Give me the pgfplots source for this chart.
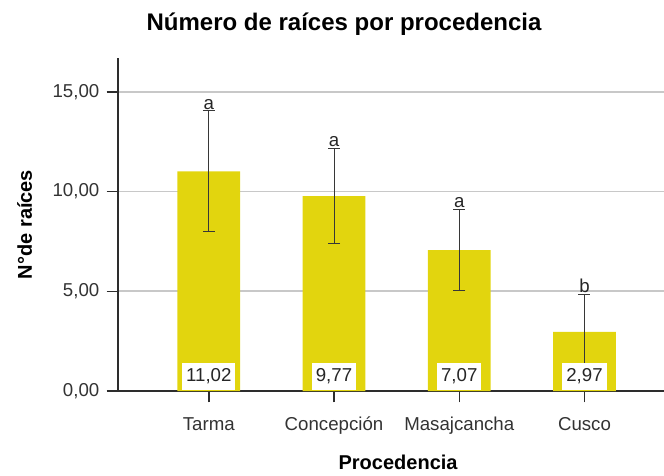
\documentclass[border=0pt]{standalone}
\usepackage{pgfplots}
\pgfplotsset{compat=1.18}
\usepackage{fontspec}
\setmainfont{Liberation Sans}

\definecolor{baryellow}{RGB}{226,213,14}
\definecolor{gridgray}{RGB}{200,200,200}
\definecolor{axisdark}{RGB}{45,45,45}
\definecolor{errgray}{RGB}{55,55,55}

\begin{document}
\begin{tikzpicture}
  \path[use as bounding box] (-88.5pt,-63pt) rectangle (409.5pt,293.25pt);
  \begin{axis}[
    at={(0,0)}, anchor=south west,
    scale only axis,
    width=409.5pt, height=249.75pt,
    xmin=-0.725, xmax=3.635,
    ymin=0, ymax=16.7,
    axis x line=bottom, axis y line=left,
    axis line style={axisdark, line width=1.1pt, -},
    xtick=data,
    xticklabels={Tarma, Concepción, Masajcancha, Cusco},
    ytick={0,5,10,15},
    tick align=outside,
    major tick length=8.5pt,
    tick style={axisdark, line width=1.1pt},
    ymajorgrids,
    grid style={gridgray, line width=1.3pt},
    /pgf/number format/assume math mode=true,
    ticklabel style={font=\fontsize{14}{16}\selectfont, text=black!80},
    xticklabel style={yshift=-7pt, text height=10.5pt, text depth=3pt},
    yticklabel style={xshift=-2pt, /pgf/number format/.cd, fixed, fixed zerofill, precision=2, use comma},
    title={Número de raíces por procedencia},
    title style={font=\fontsize{18}{21}\selectfont\bfseries, at={(axis description cs:0.414,1.078)}, anchor=center},
    xlabel={Procedencia},
    xlabel style={font=\fontsize{15}{18}\selectfont\bfseries, at={(axis description cs:0.513,-0.213)}, anchor=center},
    ylabel={N°de raíces},
    ylabel style={font=\fontsize{15}{18}\selectfont\bfseries, at={(axis description cs:-0.171,0.5)}, anchor=center, rotate=0},
    clip=false,
  ]
  % bars
  \addplot[ybar, bar width=0.5, fill=baryellow, draw=none] coordinates {
    (0, 11.02)
    (1, 9.77)
    (2, 7.07)
    (3, 2.97)
  };
  % value boxes at bottom of bars
  \addplot[draw=none, mark=none, nodes near coords, point meta=explicit symbolic,
    nodes near coords style={anchor=south, fill=white, inner xsep=3pt, inner ysep=4.5pt, yshift=0.6pt,
      font=\fontsize{14}{16}\selectfont, text=black!85}]
    table[meta=lab] {
    x y lab
    0 0 11,02
    1 0 9,77
    2 0 7,07
    3 0 2,97
  };
  % error bars
  \addplot[draw=none, mark=none,
    error bars/.cd, y dir=both, y explicit,
    error bar style={draw=errgray, line width=0.75pt},
    error mark options={draw=errgray, line width=0.75pt, mark size=4.5pt, rotate=90}]
    coordinates {
    (0, 11.02) +- (0, 3.03)
    (1, 9.77) +- (0, 2.38)
    (2, 7.07) +- (0, 2.03)
    (3, 2.97) +- (0, 1.86)
  };
  % significance letters
  \addplot[draw=none, mark=none, nodes near coords, point meta=explicit symbolic,
    nodes near coords style={anchor=south, inner sep=1pt,
      font=\fontsize{14}{16}\selectfont, text=black!85}]
    table[meta=lab] {
    x y lab
    0 14.05 a
    1 12.15 a
    2 9.10 a
    3 4.83 b
  };
  \end{axis}
\end{tikzpicture}
\end{document}
